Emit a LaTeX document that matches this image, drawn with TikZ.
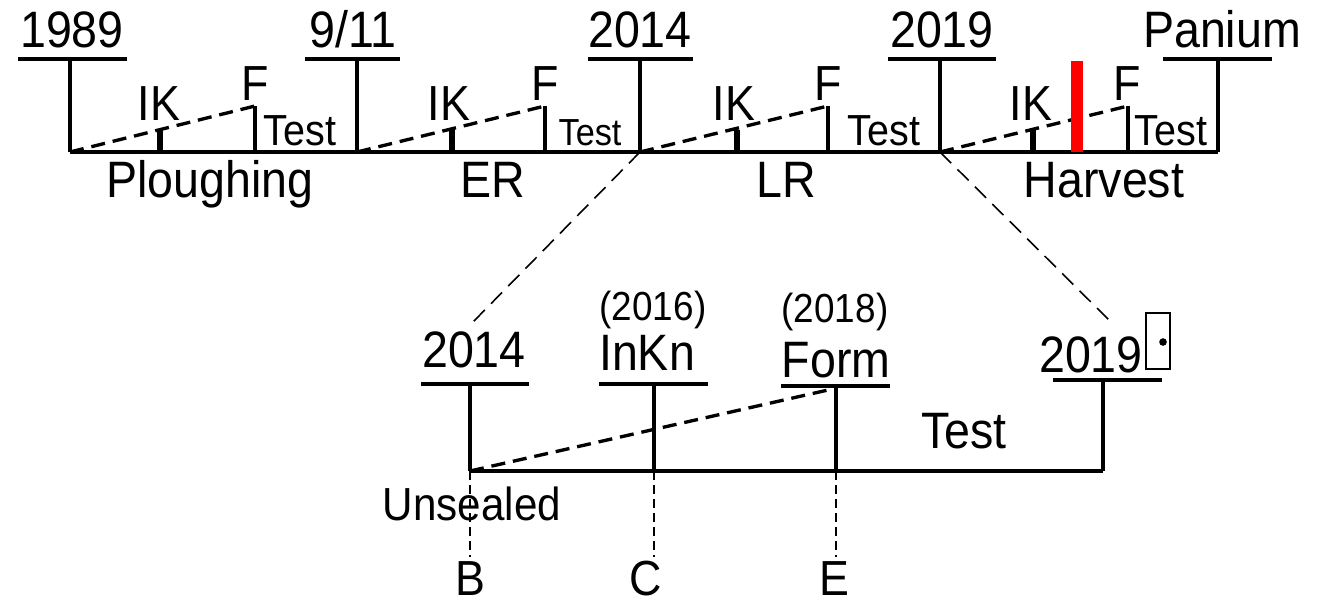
\documentclass[tikz,border=0pt]{standalone}
\usepackage{fontspec}
\setmainfont{Liberation Sans}
\usetikzlibrary{calc, positioning}
\newcommand{\tl}[1]{\scalebox{1}[1.1]{#1}}

\begin{document}
\begin{tikzpicture}[x=0.02cm, y=-0.02cm,
            yearlabel/.style={font=\fontsize{26.5}{30}\selectfont, inner sep=0pt, anchor=base},
            phaselabel/.style={font=\fontsize{25.5}{28}\selectfont, inner sep=0pt, anchor=base},
            testlabel/.style={font=\fontsize{22.5}{26}\selectfont, inner sep=0pt, anchor=base},
            datelabel/.style={font=\fontsize{21}{24}\selectfont, inner sep=0pt, anchor=base},
            axisline/.style={line width=2.7pt},
            tickline/.style={line width=2.4pt},
            stubline/.style={line width=3.4pt},
            phaseline/.style={line width=1.9pt, dash pattern=on 8pt off 4.5pt},
            zoomline/.style={line width=0.9pt, dash pattern=on 9pt off 5pt},
            dropline/.style={line width=0.9pt, dash pattern=on 5pt off 3pt},
            ]
            \useasboundingbox (0,0) rectangle (1335,603);

            %Top timeline
            \coordinate (a1989) at (70,152);   \coordinate (b1989) at (70,59);
            \coordinate (a911) at (357,152);   \coordinate (b911) at (357,59);
            \coordinate (a2014) at (640,152);  \coordinate (b2014) at (640,59);
            \coordinate (a2019) at (940,152);  \coordinate (b2019) at (940,59);
            \coordinate (aPanium) at (1218,152); \coordinate (bPanium) at (1218,59);

            \node[yearlabel] (y1989) at (72,47) {\tl{1989}};
            \node[yearlabel] (y911) at (353,47) {\tl{9/11}};
            \node[yearlabel] (y2014) at (640,47) {\tl{2014}};
            \node[yearlabel] (y2019) at (942,47) {\tl{2019}};
            \node[yearlabel] (yPanium) at (1222,47) {\tl{Panium}};

            \draw[tickline] (18,59) -- (127,59);
            \draw[tickline] (305,59) -- (400,59);
            \draw[tickline] (588,59) -- (693,59);
            \draw[tickline] (888,59) -- (996,59);
            \draw[tickline] (1163,59) -- (1272,59);

            \draw[axisline] (a1989) -- (aPanium);
            \draw[tickline] (a1989) -- (b1989);
            \draw[tickline] (a911) -- (b911);
            \draw[tickline] (a2014) -- (b2014);
            \draw[tickline] (a2019) -- (b2019);
            \draw[tickline] (aPanium) -- (bPanium);

            %Ploughing
            \coordinate (fa1) at (255,152); \coordinate (fb1) at (255,106);
            \draw[tickline] (fa1) -- (fb1);
            \draw[phaseline] (a1989) -- (fb1);
            \draw[stubline] (160,151) -- (160,129);
            \node[phaselabel] (ik1) at (159,120) {\tl{IK}};
            \node[phaselabel] (f1) at (255,100) {\tl{F}};
            \node[testlabel] (test1) at (300,145) {\tl{Test}};
            \node[yearlabel] (plough) at (210,197) {\tl{Ploughing}};

            %ER
            \coordinate (fa2) at (545,152); \coordinate (fb2) at (545,106);
            \draw[tickline] (fa2) -- (fb2);
            \draw[phaseline] (a911) -- (fb2);
            \draw[stubline] (452,151) -- (452,130);
            \node[phaselabel] (ik2) at (449,120) {\tl{IK}};
            \node[phaselabel] (f2) at (545,100) {\tl{F}};
            \node[testlabel, font=\fontsize{19.5}{22}\selectfont] (test2) at (590,145) {\tl{Test}};
            \node[yearlabel] (er) at (493,197) {\tl{ER}};

            %LR
            \coordinate (fa3) at (828,152); \coordinate (fb3) at (828,106);
            \draw[tickline] (fa3) -- (fb3);
            \draw[phaseline] (a2014) -- (fb3);
            \draw[stubline] (737,151) -- (737,130);
            \node[phaselabel] (ik3) at (734,120) {\tl{IK}};
            \node[phaselabel] (f3) at (828,100) {\tl{F}};
            \node[testlabel] (test3) at (884,145) {\tl{Test}};
            \node[yearlabel] (lr) at (786,197) {\tl{LR}};

            %Harvest
            \coordinate (fa4) at (1128,152); \coordinate (fb4) at (1128,106);
            \draw[tickline] (fa4) -- (fb4);
            \draw[phaseline] (a2019) -- (fb4);
            \draw[stubline] (1033,151) -- (1033,130);
            \node[phaselabel] (ik4) at (1031,120) {\tl{IK}};
            \node[phaselabel] (f4) at (1127,100) {\tl{F}};
            \node[testlabel] (test4) at (1171,145) {\tl{Test}};
            \node[yearlabel] (harvest) at (1104,197) {\tl{Harvest}};
            \fill[red] (1071,61) rectangle (1083,152);

            %Bottom timeline
            \coordinate (c2014) at (470,471); \coordinate (d2014) at (470,384);
            \coordinate (cInKn) at (654,471); \coordinate (dInKn) at (654,384);
            \coordinate (cForm) at (836,471); \coordinate (dForm) at (836,386);
            \coordinate (c2019) at (1103,471); \coordinate (d2019) at (1103,380);

            \node[yearlabel] (z2014) at (474,367) {\tl{2014}};
            \node[yearlabel] (zInKn) at (647,370) {\tl{InKn}};
            \node[datelabel] (z2016) at (653,320) {\tl{(2016)}};
            \node[yearlabel] (zForm) at (836,377) {\tl{Form}};
            \node[datelabel] (z2018) at (835,322) {\tl{(2018)}};
            \node[yearlabel] (z2019) at (1091,372) {\tl{2019}};
            \draw[line width=1.2pt] (1146,313) rectangle (1170,369);
            \fill (1163,342) circle (3.8);

            \draw[tickline] (421,384) -- (529,384);
            \draw[tickline] (599,384) -- (708,384);
            \draw[tickline] (781,386) -- (890,386);
            \draw[tickline] (1053,380) -- (1162,380);

            \draw[axisline] (c2014) -- (c2019);
            \draw[tickline] (c2014) -- (d2014);
            \draw[tickline] (cInKn) -- (dInKn);
            \draw[tickline] (cForm) -- (dForm);
            \draw[tickline] (c2019) -- (d2019);
            \draw[phaseline] (c2014) -- (828,390);

            \node[yearlabel] (ztest) at (964,448) {\tl{Test}};
            \node[phaselabel, font=\fontsize{24}{28}\selectfont] (unsealed) at (472,520) {\tl{Unsealed}};

            %Lines down
            \node[phaselabel] (lb) at (470,595) {\tl{B}};
            \node[phaselabel] (lc) at (646,595) {\tl{C}};
            \node[phaselabel] (le) at (834,595) {\tl{E}};
            \draw[dropline] (c2014) -- (470,557);
            \draw[dropline] (cInKn) -- (654,557);
            \draw[dropline] (cForm) -- (836,557);

            %Zoom lines
            \coordinate (zl) at (472,323);
            \coordinate (zr) at (1111,322);
            \draw[zoomline] (a2014) -- (zl);
            \draw[zoomline] (a2019) -- (zr);
          \end{tikzpicture}
\end{document}
